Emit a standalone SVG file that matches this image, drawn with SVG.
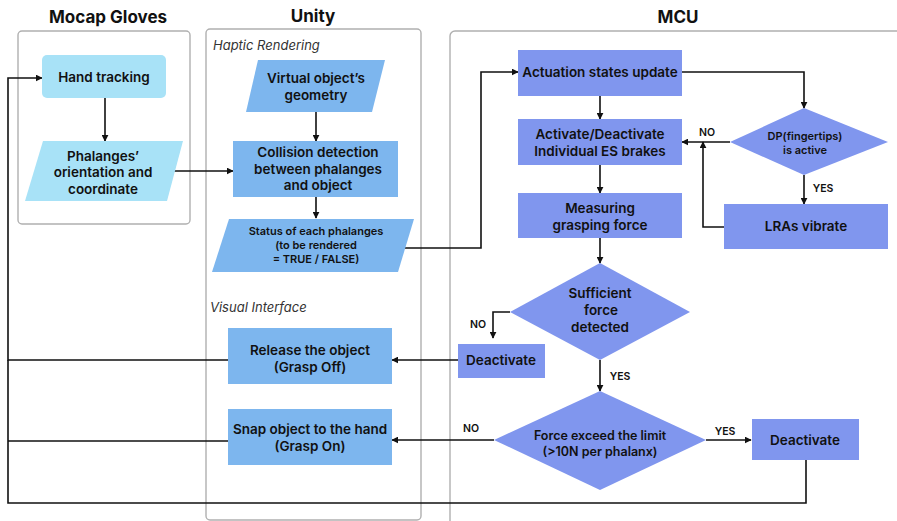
<svg xmlns="http://www.w3.org/2000/svg" width="897" height="521" viewBox="0 0 897 521">
<style>
text{font-family:Inter,"Noto Sans","Liberation Sans",sans-serif;fill:#111;text-anchor:middle;dominant-baseline:central}
.title{font-size:17px;font-weight:700}
.sec{font-size:13px;font-style:italic;font-weight:400;text-anchor:start;fill:#333}
.t{font-size:13.5px;font-weight:600}
.s{font-size:11px;font-weight:600}
.lb{font-size:10.5px;font-weight:600}
.cont{fill:#fff;stroke:#b0b0b0;stroke-width:1.4}
.cy{fill:#a8e2f7}
.ub{fill:#7db6ee}
.mc{fill:#8096ee}
.c{fill:none;stroke:#111;stroke-width:1.6}
</style>
<defs>
<marker id="ah" viewBox="0 0 10 10" refX="9" refY="5" markerWidth="7" markerHeight="7" markerUnits="userSpaceOnUse" orient="auto">
<path d="M0,0 L10,5 L0,10 z" fill="#111"/>
</marker>
</defs>
<rect width="897" height="521" fill="#fff"/>
<g id="containers">
<text class="title" x="108" y="17">Mocap Gloves</text>
<rect class="cont" x="18" y="31" width="172" height="193" rx="4"/>
<text class="title" x="313" y="16">Unity</text>
<rect class="cont" x="206" y="29" width="215" height="491" rx="4"/>
<text class="sec" x="213" y="45">Haptic Rendering</text>
<text class="sec" x="210" y="307">Visual Interface</text>
<text class="title" x="678" y="17">MCU</text>
<rect class="cont" x="450" y="31" width="460" height="500" rx="5"/>
</g>
<g id="connectors">
<path class="c" d="M105,98 V141" marker-end="url(#ah)"/>
<path class="c" d="M174,171 H233" marker-end="url(#ah)"/>
<path class="c" d="M316,112 V141" marker-end="url(#ah)"/>
<path class="c" d="M316,197 V218" marker-end="url(#ah)"/>
<path class="c" d="M400,248 H481 V72 H518" marker-end="url(#ah)"/>
<path class="c" d="M682,72 H804 V108" marker-end="url(#ah)"/>
<path class="c" d="M600,96 V119" marker-end="url(#ah)"/>
<path class="c" d="M600,165 V193" marker-end="url(#ah)"/>
<path class="c" d="M600,238 V263" marker-end="url(#ah)"/>
<path class="c" d="M730,142 H682" marker-end="url(#ah)"/>
<path class="c" d="M724,227 H703 V142" marker-end="url(#ah)"/>
<path class="c" d="M804,175 V204" marker-end="url(#ah)"/>
<path class="c" d="M510,312 H493 V338" marker-end="url(#ah)"/>
<path class="c" d="M458,360 H392" marker-end="url(#ah)"/>
<path class="c" d="M600,360 V391" marker-end="url(#ah)"/>
<path class="c" d="M494,440 H392" marker-end="url(#ah)"/>
<path class="c" d="M706,440 H751" marker-end="url(#ah)"/>
<path class="c" d="M228,360 H8 V78 H42" marker-end="url(#ah)"/>
<path class="c" d="M228,441 H8"/>
<path class="c" d="M806,460 V503 H8 V360"/>
<text class="lb" x="707" y="132">NO</text>
<text class="lb" x="823" y="188">YES</text>
<text class="lb" x="478" y="324">NO</text>
<text class="lb" x="620" y="376">YES</text>
<text class="lb" x="471" y="428">NO</text>
<text class="lb" x="725" y="431">YES</text>
</g>
<g id="hand-tracking">
<rect class="cy" x="42" y="55" width="124" height="43" rx="5"/>
<text class="t" x="104" y="77">Hand tracking</text>
</g>
<g id="phalanges">
<polygon class="cy" points="43,141 183,141 167,201 25,201"/>
<text class="t" x="103" y="156">Phalanges’</text>
<text class="t" x="103" y="172">orientation and</text>
<text class="t" x="103" y="189">coordinate</text>
</g>
<g id="virtual-object">
<polygon class="ub" points="258,60 385,60 372,112 246,112"/>
<text class="t" x="316" y="78">Virtual object’s</text>
<text class="t" x="316" y="95">geometry</text>
</g>
<g id="collision">
<rect class="ub" x="233" y="141" width="165" height="56"/>
<text class="t" x="318" y="152">Collision detection</text>
<text class="t" x="318" y="169">between phalanges</text>
<text class="t" x="318" y="185">and object</text>
</g>
<g id="status">
<polygon class="ub" points="229,219 414,219 398,272 212,272"/>
<text class="s" x="316" y="231">Status of each phalanges</text>
<text class="s" x="316" y="245">(to be rendered</text>
<text class="s" x="316" y="259">= TRUE / FALSE)</text>
</g>
<g id="release">
<rect class="ub" x="228" y="328" width="164" height="56"/>
<text class="t" x="310" y="350">Release the object</text>
<text class="t" x="310" y="367">(Grasp Off)</text>
</g>
<g id="snap">
<rect class="ub" x="228" y="409" width="164" height="56"/>
<text class="t" x="310" y="429">Snap object to the hand</text>
<text class="t" x="310" y="446">(Grasp On)</text>
</g>
<g id="actuation">
<rect class="mc" x="518" y="50" width="164" height="46"/>
<text class="t" x="600" y="72">Actuation states update</text>
</g>
<g id="activate">
<rect class="mc" x="518" y="119" width="164" height="46"/>
<text class="t" x="600" y="134">Activate/Deactivate</text>
<text class="t" x="600" y="151">Individual ES brakes</text>
</g>
<g id="measuring">
<rect class="mc" x="518" y="193" width="164" height="45"/>
<text class="t" x="600" y="208">Measuring</text>
<text class="t" x="600" y="225">grasping force</text>
</g>
<g id="dp">
<polygon class="mc" points="804,108 888,142 804,175 730,142"/>
<text class="s" x="805" y="136">DP(fingertips)</text>
<text class="s" x="805" y="150">is active</text>
</g>
<g id="lras">
<rect class="mc" x="724" y="204" width="164" height="45"/>
<text class="t" x="806" y="226">LRAs vibrate</text>
</g>
<g id="sufficient">
<polygon class="mc" points="600,263 690,312 600,360 510,312"/>
<text class="t" x="600" y="293">Sufficient</text>
<text class="t" x="601" y="310">force</text>
<text class="t" x="600" y="327">detected</text>
</g>
<g id="deactivate1">
<rect class="mc" x="458" y="344" width="87" height="34"/>
<text class="t" x="501" y="360">Deactivate</text>
</g>
<g id="force-limit">
<polygon class="mc" points="600,391 706,440 600,490 494,440"/>
<text class="t" x="600" y="435" style="font-size:12.5px">Force exceed the limit</text>
<text class="t" x="600" y="451" style="font-size:12.5px">(&gt;10N per phalanx)</text>
</g>
<g id="deactivate2">
<rect class="mc" x="752" y="419" width="107" height="41"/>
<text class="t" x="805" y="440">Deactivate</text>
</g>
</svg>
